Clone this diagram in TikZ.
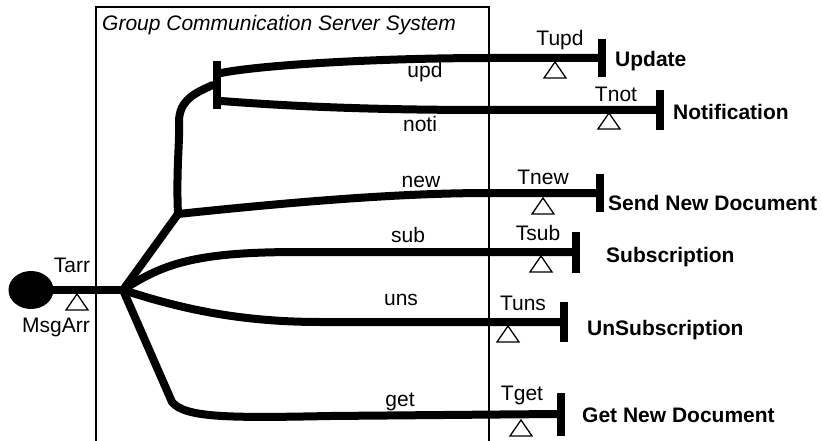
\documentclass[tikz,border=0pt]{standalone}
\usepackage{fontspec}
\setmainfont{Liberation Sans}
\usetikzlibrary{shapes.geometric}

\tikzset{
	wire/.style={line width=8pt, line cap=round, line join=round},
	endbar/.style={fill=black, inner sep=0pt, minimum width=8pt},
	lbl/.style={inner sep=0pt, anchor=base, font=\fontsize{21}{25}\selectfont},
	act/.style={inner sep=0pt, anchor=base west, font=\fontsize{21}{25}\selectfont\bfseries},
	tmark/.pic={\draw[line width=1.3pt] (0,0) -- (11,16) -- (-11,16) -- cycle;}
}

\begin{document}
\begin{tikzpicture}[x=1pt, y=-1pt]
	\useasboundingbox (0,0) rectangle (822,441);

	% System box
	\draw[line width=1.3pt] (96,441) -- (96,7) -- (489,7) -- (489,441);
	\node[inner sep=0pt, anchor=west, font=\fontsize{21}{25}\selectfont\itshape] (title) at (102,25) {Group Communication Server System};

	% Start place, branch points and end bars
	\node[ellipse, fill=black, minimum width=45pt, minimum height=38pt, inner sep=0pt] (start) at (31,290) {};
	\coordinate (jn) at (123,290);
	\coordinate (fk) at (178,214);
	\node[endbar, minimum height=48pt] (bUN) at (217,85) {};
	\node[endbar, minimum height=38pt] (bUpd) at (602,58) {};
	\node[endbar, minimum height=40pt] (bNot) at (660,110) {};
	\node[endbar, minimum height=38pt] (bNew) at (600,193) {};
	\node[endbar, minimum height=41pt] (bSub) at (576,252) {};
	\node[endbar, minimum height=40pt] (bUns) at (564,322) {};
	\node[endbar, minimum height=43pt] (bGet) at (561,414) {};

	% Wires
	\draw[wire] (start.east) -- (jn);
	\draw[wire] (jn) -- (fk);
	\draw[wire] (fk) .. controls (176,170) and (180,140) .. (179,122) .. controls (179,100) and (195,93) .. (bUN.west);
	\draw[wire] ([yshift=12pt]bUN.east) .. controls (260,65) and (380,58) .. (490,58) -- (bUpd.west);
	\draw[wire] ([yshift=-16pt]bUN.east) .. controls (300,107) and (380,110) .. (490,110) -- (bNot.west);
	\draw[wire] (fk) .. controls (330,198) and (420,193) .. (490,193) -- (bNew.west);
	\draw[wire] (jn) .. controls (165,262) and (200,252) .. (300,252) -- (bSub.west);
	\draw[wire] (jn) .. controls (170,305) and (230,322) .. (320,322) -- (bUns.west);
	\draw[wire] (jn) -- (172,402) .. controls (185,418) and (230,418) .. (330,416) -- (bGet.west);

	% Timing marks
	\pic (tArr) at (77,294) {tmark};
	\pic (tUpd) at (555,62) {tmark};
	\pic (tNot) at (609,113) {tmark};
	\pic (tNew) at (543,198) {tmark};
	\pic (tSub) at (541,256) {tmark};
	\pic (tUns) at (508,326) {tmark};
	\pic (tGet) at (521,420) {tmark};

	% Labels
	\node[lbl] (lTarr) at (72,272) {Tarr};
	\node[lbl] (lMsg) at (56,332) {MsgArr};
	\node[lbl] (lupd) at (425,78) {upd};
	\node[lbl] (lnoti) at (420,132) {noti};
	\node[lbl] (lnew) at (421,187) {new};
	\node[lbl] (lsub) at (408,242) {sub};
	\node[lbl] (luns) at (401,305) {uns};
	\node[lbl] (lget) at (400,406) {get};
	\node[lbl] (lTupd) at (560,46) {Tupd};
	\node[lbl] (lTnot) at (616,102) {Tnot};
	\node[lbl] (lTnew) at (543,184) {Tnew};
	\node[lbl] (lTsub) at (538,240) {Tsub};
	\node[lbl] (lTuns) at (523,310) {Tuns};
	\node[lbl] (lTget) at (522,400) {Tget};

	% Activity names
	\node[act] (aUpd) at (615,67) {Update};
	\node[act] (aNot) at (673,120) {Notification};
	\node[act] (aNew) at (608,210) {Send New Document};
	\node[act] (aSub) at (606,262) {Subscription};
	\node[act] (aUns) at (587,335) {UnSubscription};
	\node[act] (aGet) at (582,422) {Get New Document};
\end{tikzpicture}
\end{document}
